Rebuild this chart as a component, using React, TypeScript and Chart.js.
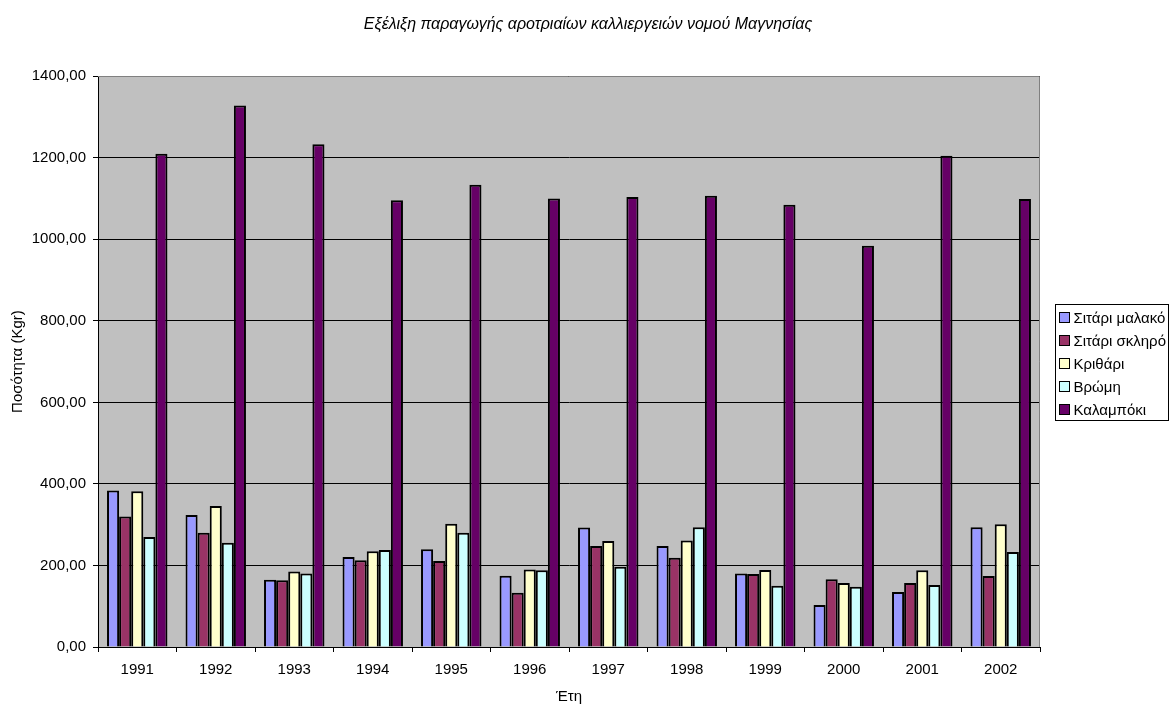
import { useEffect, useRef } from "react";
import { Chart, registerables, type ChartConfiguration, type Plugin } from "chart.js";

Chart.register(...registerables);

const FONT = "'Liberation Sans', Arial, sans-serif";

const years = ["1991", "1992", "1993", "1994", "1995", "1996", "1997", "1998", "1999", "2000", "2001", "2002"];

const seriesNames = ["Σιτάρι μαλακό", "Σιτάρι σκληρό", "Κριθάρι", "Βρώμη", "Καλαμπόκι"];
const seriesColors = ["#9999FF", "#993366", "#FFFFCC", "#CCFFFF", "#660066"];

const softWheat = [384, 324, 165, 221, 240, 175, 293, 248, 180, 103, 135, 294];
const durumWheat = [320, 280, 164, 213, 211, 133, 248, 219, 179, 166, 157, 174];
const barley = [382, 346, 185, 235, 302, 190, 260, 261, 189, 157, 188, 301];
const oats = [270, 256, 180, 238, 280, 188, 197, 294, 150, 148, 152, 233];
const corn = [1210, 1328, 1233, 1096, 1134, 1100, 1104, 1107, 1085, 984, 1205, 1099];

const seriesValues = [softWheat, durumWheat, barley, oats, corn];

const yMin = 0;
const yMax = 1400;
const yStep = 200;

// grey plot area + thin grey frame on top/right, like the old Excel look
const plotBackground: Plugin<"bar"> = {
  id: "plotBackground",
  beforeDraw(chart) {
    const { ctx, chartArea: a } = chart;
    ctx.save();
    ctx.fillStyle = "#C0C0C0";
    ctx.fillRect(a.left, a.top, a.right - a.left, a.bottom - a.top);
    ctx.restore();
  },
  afterDraw(chart) {
    const { ctx, chartArea: a } = chart;
    ctx.save();
    ctx.strokeStyle = "#808080";
    ctx.lineWidth = 1;
    ctx.beginPath();
    ctx.moveTo(a.left, Math.round(a.top) + 0.5);
    ctx.lineTo(Math.round(a.right) - 0.5, Math.round(a.top) + 0.5);
    ctx.lineTo(Math.round(a.right) - 0.5, a.bottom);
    ctx.stroke();
    ctx.restore();
  },
};

// legend in a framed box to the right of the plot
const boxedLegend: Plugin<"bar"> = {
  id: "boxedLegend",
  afterDraw(chart) {
    const { ctx, chartArea: a } = chart;
    const items = chart.data.datasets;
    const rowH = 23;
    const boxW = 113;
    const boxH = items.length * rowH + 1;
    const x = Math.round(a.right + 15) + 0.5;
    const y = Math.round((a.top + a.bottom) / 2 - boxH / 2) + 0.5;

    ctx.save();
    ctx.fillStyle = "#FFFFFF";
    ctx.fillRect(x, y, boxW, boxH);
    ctx.strokeStyle = "#000000";
    ctx.lineWidth = 1;
    ctx.strokeRect(x, y, boxW, boxH);
    ctx.font = `15px ${FONT}`;
    ctx.textBaseline = "middle";
    ctx.textAlign = "left";
    items.forEach((ds, i) => {
      const cy = Math.round(y + 13 + i * rowH);
      ctx.fillStyle = ds.backgroundColor as string;
      ctx.fillRect(x + 4, cy - 5, 10, 10);
      ctx.strokeRect(x + 4, cy - 5.5, 10, 10);
      ctx.fillStyle = "#000000";
      ctx.fillText(ds.label ?? "", x + 18, cy + 0.5);
    });
    ctx.restore();
  },
};

export default function App() {
  const canvasRef = useRef<HTMLCanvasElement | null>(null);

  useEffect(() => {
    document.body.style.margin = "0";
    const canvas = canvasRef.current;
    if (!canvas) return;

    const config: ChartConfiguration<"bar"> = {
      type: "bar",
      data: {
        labels: years,
        datasets: seriesNames.map((name, i) => ({
          label: name,
          data: seriesValues[i],
          backgroundColor: seriesColors[i],
          borderColor: "#000000",
          borderWidth: 2,
          categoryPercentage: 0.77,
          barPercentage: 1,
        })),
      },
      options: {
        responsive: true,
        maintainAspectRatio: false,
        animation: false,
        layout: { padding: 0 },
        plugins: {
          legend: { display: false },
          tooltip: { enabled: false },
          title: {
            display: true,
            text: "Εξέλιξη παραγωγής αροτριαίων καλλιεργειών νομού Μαγνησίας",
            color: "#000000",
            font: { family: FONT, size: 16, style: "italic", weight: "normal", lineHeight: 1.2 },
            padding: { top: 15, bottom: 42 },
          },
        },
        scales: {
          x: {
            afterFit: (scale) => {
              scale.height = 57;
            },
            grid: {
              display: true,
              drawOnChartArea: false,
              drawTicks: true,
              tickLength: 5,
              color: "#000000",
              offset: true,
            },
            border: { display: true, color: "#000000", width: 1 },
            ticks: {
              color: "#000000",
              font: { family: FONT, size: 15 },
              padding: 9,
              maxRotation: 0,
              autoSkip: false,
            },
            title: {
              display: true,
              text: "Έτη",
              color: "#000000",
              font: { family: FONT, size: 15, lineHeight: 1 },
              padding: { top: 0, bottom: 0 },
            },
          },
          y: {
            min: yMin,
            max: yMax,
            afterFit: (scale) => {
              scale.width = 98;
            },
            grid: {
              color: "#000000",
              lineWidth: 1,
              drawTicks: true,
              tickLength: 5,
            },
            border: { display: true, color: "#000000", width: 1 },
            ticks: {
              stepSize: yStep,
              color: "#000000",
              padding: 7,
              font: { family: FONT, size: 15 },
              callback: (v) => Number(v).toFixed(2).replace(".", ","),
            },
            title: {
              display: true,
              text: "Ποσότητα (Kgr)",
              color: "#000000",
              font: { family: FONT, size: 15, lineHeight: 1 },
              padding: { top: 10, bottom: 0 },
            },
          },
          // empty axis on the right, only reserves room for the boxed legend
          legendSpace: {
            type: "linear",
            position: "right",
            display: true,
            afterFit: (scale) => {
              scale.width = 136;
            },
            grid: { display: false },
            border: { display: false },
            ticks: { display: false },
          },
        },
      },
      plugins: [plotBackground, boxedLegend],
    };

    const chart = new Chart(canvas, config);
    return () => {
      chart.destroy();
    };
  }, []);

  return (
    <div style={{ width: 1176, height: 704, background: "#FFFFFF", position: "relative" }}>
      <canvas ref={canvasRef} />
    </div>
  );
}
